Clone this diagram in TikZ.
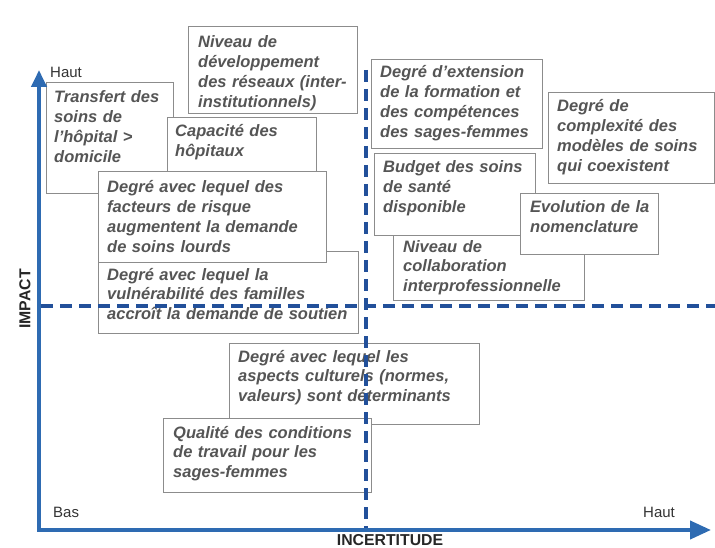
\documentclass[tikz,border=0pt]{standalone}
\usepackage{fontspec}
\setmainfont{Liberation Sans}
\usetikzlibrary{arrows.meta}
\definecolor{axisblue}{HTML}{2E6BB2}
\definecolor{dashblue}{HTML}{22509A}
\definecolor{txtgray}{HTML}{555555}
\definecolor{boxgray}{HTML}{8C8C8C}
\tikzset{
  box/.style={draw=boxgray, line width=0.9pt, fill=white, rectangle, inner sep=0pt, anchor=north west},
  txt/.style={text=txtgray, font=\fontsize{16.5}{19.8}\selectfont\bfseries\itshape, align=left, inner sep=0pt, anchor=base west},
  axis/.style={draw=axisblue, line width=4pt, line join=miter},
  quad/.style={draw=dashblue, line width=3.2pt, dash pattern=on 12pt off 7pt},
  axlab/.style={text=black!80, font=\fontsize{15}{18}\selectfont, inner sep=0pt, anchor=base west},
  axtitle/.style={text=black!85, font=\fontsize{15.8}{18}\selectfont\bfseries, inner sep=0pt}
}
\newcommand{\databox}[7]{% name, left, top, width, height, text x offset, first baseline offset, text
  \node[box, minimum width=#4pt, minimum height=#5pt] (#1) at (#2,#3) {};
  \node[txt, text width=#4pt] (#1t) at ([shift={(#6pt,-#7pt)}]#1.north west)}
\begin{document}
\begin{tikzpicture}[x=1pt,y=-1pt]
\useasboundingbox (0,0) rectangle (715,548);
% boxes, drawn in stacking order
\databox{b1}{188}{26}{169}{87}{10}{22}{Niveau de\\développement\\des réseaux (inter-\\institutionnels)};
\databox{b2}{46}{82}{127}{111}{8}{21}{Transfert des\\soins de\\l'hôpital >\\domicile};
\databox{b3}{167}{117}{149}{58}{8}{20}{Capacité des\\hôpitaux};
\databox{b5}{98}{251}{260}{82}{9}{29}{Degré avec lequel la\\vulnérabilité des familles\\accroît la demande de soutien};
\databox{b4}{98}{171}{228}{91}{9}{22}{Degré avec lequel des\\facteurs de risque\\augmentent la demande\\de soins lourds};
\databox{b6}{371}{59}{171}{89}{9}{19}{Degré d'extension\\de la formation et\\des compétences\\des sages-femmes};
\databox{b7}{548}{92}{166}{91}{9}{20}{Degré de\\complexité des\\modèles de soins\\qui coexistent};
\databox{b10}{393}{222}{191}{78}{10}{30}{Niveau de\\collaboration\\interprofessionnelle};
\databox{b8}{374}{153}{161}{82}{9}{20}{Budget des soins\\de santé\\disponible};
\databox{b9}{520}{193}{138}{61}{10}{20}{Evolution de la\\nomenclature};
\databox{b11}{229}{343}{250}{81}{9}{19}{Degré avec lequel les\\aspects culturels (normes,\\valeurs) sont déterminants};
\databox{b12}{163}{418}{208}{74}{10}{20}{Qualité des conditions\\de travail pour les\\sages-femmes};
% quadrant dashed lines
\coordinate (hl) at (41,306);
\coordinate (hr) at (715,306);
\coordinate (vt) at (366,70);
\coordinate (vb) at (366,528);
\draw[quad] (hl) -- (hr);
\draw[quad] (vt) -- (vb);
% axes
\coordinate (ytop) at (39,70);
\coordinate (orig) at (39,530);
\coordinate (xend) at (711,530);
\draw[axis, {Triangle[length=17pt,width=15pt]}-{Triangle[length=21pt,width=18pt]}] (ytop) -- (orig) -- (xend);
% axis labels
\node[axlab] (hauty) at (50,78) {Haut};
\node[axlab] (bas) at (53,517) {Bas};
\node[axlab] (hautx) at (643,517) {Haut};
\node[axtitle, rotate=90] (impact) at (25,299) {IMPACT};
\node[axtitle, anchor=base] (incert) at (390,545) {INCERTITUDE};
\end{tikzpicture}
\end{document}
